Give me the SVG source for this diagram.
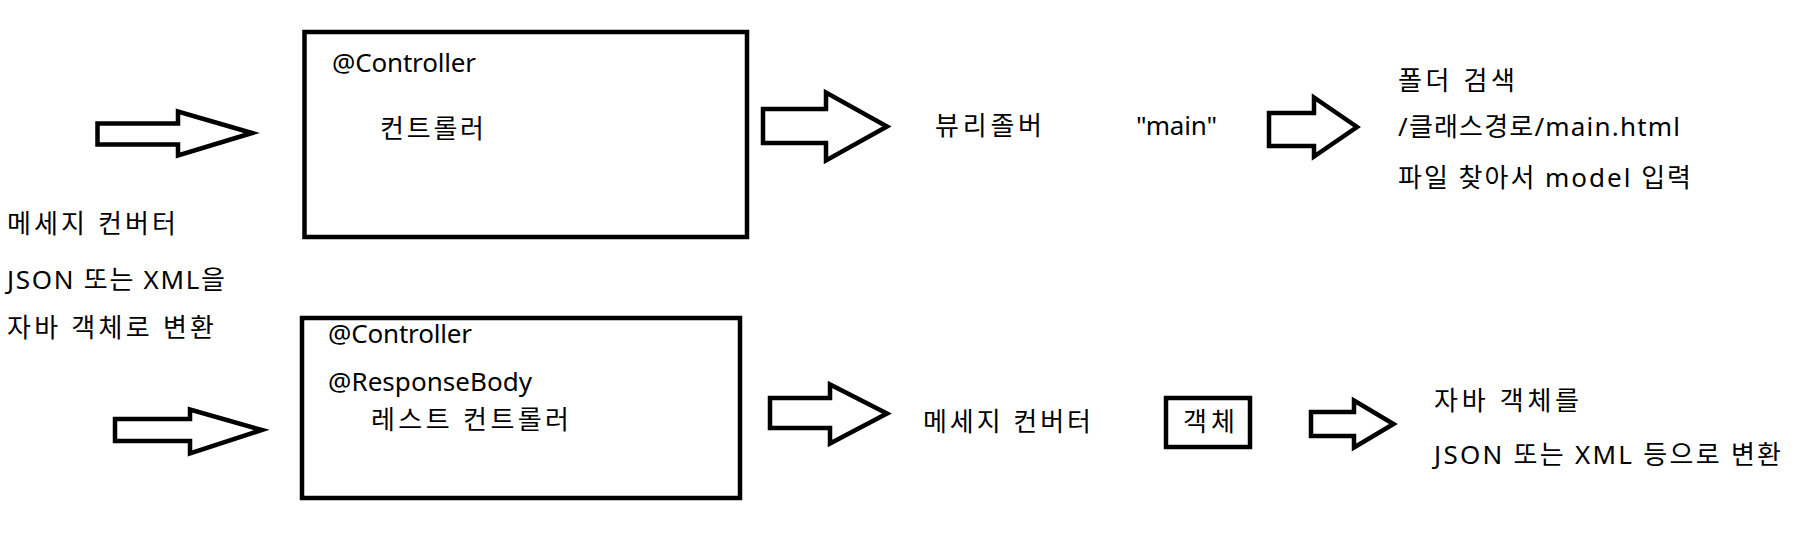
<svg xmlns="http://www.w3.org/2000/svg" width="1803" height="550" viewBox="0 0 1803 550">
<style>
.t{font-family:"Noto Sans","Noto Sans CJK KR",sans-serif;font-size:26px;fill:#000;}
.box{fill:none;stroke:#000;stroke-width:4.5;}
.arr{fill:#fff;stroke:#000;stroke-width:4.5;stroke-linejoin:miter;stroke-miterlimit:10;}
</style>
<rect width="1803" height="550" fill="#fff"/>
<g id="connectors">
<polygon class="arr" points="97.5,123.5 178,123.5 178,111.5 252,133 178,155.5 178,144.5 97.5,144.5"/>
<polygon class="arr" points="763,109 826,109 826,92.5 887,126.5 826,160.5 826,143 763,143"/>
<polygon class="arr" points="1269,113 1314,113 1314,97.5 1357,127 1314,156.5 1314,146 1269,146"/>
<polygon class="arr" points="115,419 190,419 190,409.5 262,430 190,453.5 190,441 115,441"/>
<polygon class="arr" points="770,398 830,398 830,384.5 887,413.5 830,443.5 830,428 770,428"/>
<polygon class="arr" points="1311,412 1354,412 1354,400.5 1393.5,424 1354,447.5 1354,436 1311,436"/>
</g>
<g id="controller">
<rect class="box" x="304.5" y="32" width="442.5" height="205"/>
<text class="t" x="332" y="72" textLength="144" lengthAdjust="spacing">@Controller</text>
<text class="t" x="380" y="138" textLength="104" lengthAdjust="spacing">컨트롤러</text>
</g>
<g id="viewresolver">
<text class="t" x="935" y="135" textLength="107" lengthAdjust="spacing">뷰리졸버</text>
<text class="t" x="1136" y="135" textLength="81" lengthAdjust="spacing">"main"</text>
</g>
<g id="view-lookup">
<text class="t" x="1398" y="90" textLength="117" lengthAdjust="spacing">폴더 검색</text>
<text class="t" x="1398" y="136" textLength="282" lengthAdjust="spacing">/클래스경로/main.html</text>
<text class="t" x="1398" y="187" textLength="293" lengthAdjust="spacing">파일 찾아서 model 입력</text>
</g>
<g id="message-converter-in">
<text class="t" x="7" y="233" textLength="169" lengthAdjust="spacing">메세지 컨버터</text>
<text class="t" x="7" y="289" textLength="218" lengthAdjust="spacing">JSON 또는 XML을</text>
<text class="t" x="7" y="337" textLength="207" lengthAdjust="spacing">자바 객체로 변환</text>
</g>
<g id="rest-controller">
<rect class="box" x="302" y="318" width="438" height="180"/>
<text class="t" x="328" y="343" textLength="144" lengthAdjust="spacing">@Controller</text>
<text class="t" x="328" y="391" textLength="204" lengthAdjust="spacing">@ResponseBody</text>
<text class="t" x="371" y="429" textLength="198" lengthAdjust="spacing">레스트 컨트롤러</text>
</g>
<g id="message-converter-out">
<text class="t" x="923" y="431" textLength="168" lengthAdjust="spacing">메세지 컨버터</text>
</g>
<g id="object">
<rect class="box" x="1166" y="398" width="84" height="49"/>
<text class="t" x="1183" y="431" textLength="52" lengthAdjust="spacing">객체</text>
</g>
<g id="serialize">
<text class="t" x="1434" y="410" textLength="145" lengthAdjust="spacing">자바 객체를</text>
<text class="t" x="1434" y="464" textLength="347" lengthAdjust="spacing">JSON 또는 XML 등으로 변환</text>
</g>
</svg>
